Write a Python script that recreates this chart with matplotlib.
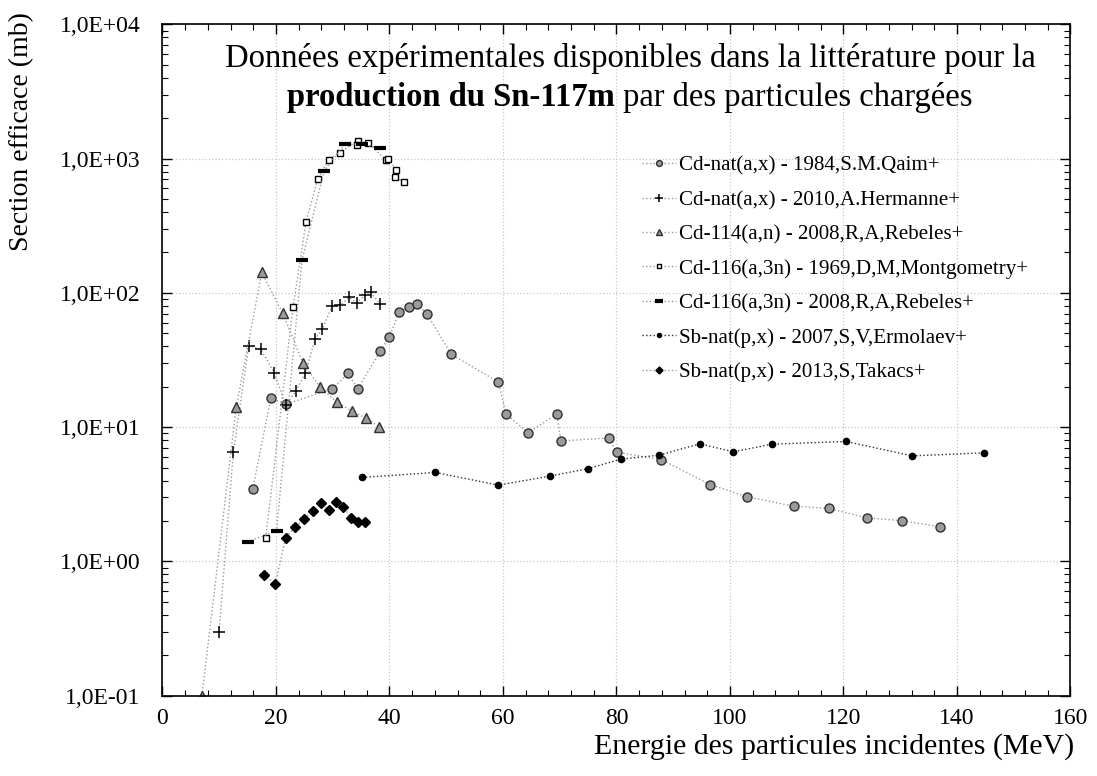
import matplotlib
matplotlib.use("Agg")
import matplotlib.pyplot as plt
from matplotlib.ticker import FixedLocator, FuncFormatter, LogLocator, MultipleLocator, NullFormatter

plt.rcParams['font.family'] = ['Liberation Serif', 'DejaVu Serif']

# ---------------- data ----------------
qaim_E = [15.9, 19.1, 21.7, 29.9, 32.7, 34.4, 38.4, 40.0, 41.7, 43.4, 44.9, 46.6, 50.9,
          59.2, 60.5, 64.4, 69.5, 70.2, 78.6, 80.1, 87.9, 96.5, 103.0, 111.2, 117.5,
          124.1, 130.4, 137.0]
qaim_S = [3.45, 16.5, 14.8, 19.3, 25.1, 19.3, 37.0, 47.3, 72.0, 78.0, 82.0, 70.0, 34.8,
          21.7, 12.6, 9.1, 12.5, 7.9, 8.3, 6.5, 5.74, 3.74, 3.03, 2.58, 2.48,
          2.11, 2.01, 1.81]

herm_E = [9.96, 12.5, 15.2, 17.3, 19.7, 21.7, 23.5, 25.2, 26.9, 28.2, 29.9, 31.3, 32.9,
          34.2, 35.7, 36.7, 38.3]
herm_S = [0.298, 6.55, 40.3, 38.1, 25.5, 14.6, 18.5, 25.4, 45.4, 54.0, 79.6, 81.0, 92.5,
          84.4, 96.6, 101.0, 82.8]

reb114_E = [6.96, 13.0, 17.5, 21.2, 24.8, 27.8, 30.7, 33.4, 35.9, 38.2]
reb114_S = [0.10, 14.1, 142.0, 70.3, 29.8, 19.9, 15.4, 13.1, 11.7, 10.0]

mont_E = [18.2, 23.0, 25.3, 27.4, 29.3, 31.2, 34.4, 34.3, 36.2, 39.4, 39.8, 41.2, 41.0, 42.6]
mont_S = [1.50, 77.9, 340.0, 711.0, 984.0, 1109.0, 1355.0, 1253.0, 1318.0, 973.0, 1000.0,
          829.0, 731.0, 667.0]

reb116_E = [15.0, 20.1, 24.6, 28.5, 32.2, 35.2, 38.3]
reb116_S = [1.40, 1.69, 176.0, 815.0, 1280.0, 1280.0, 1194.0]

ermo_E = [35.2, 48.1, 59.2, 68.3, 74.9, 80.8, 87.5, 94.7, 100.6, 107.4, 120.5, 132.1, 144.8]
ermo_S = [4.22, 4.60, 3.70, 4.32, 4.90, 5.78, 6.18, 7.52, 6.55, 7.47, 7.82, 6.11, 6.44]

taka_E = [17.9, 19.9, 21.7, 23.3, 24.9, 26.6, 27.9, 29.3, 30.6, 31.9, 33.2, 34.4, 35.7]
taka_S = [0.79, 0.68, 1.50, 1.79, 2.06, 2.37, 2.73, 2.41, 2.76, 2.56, 2.11, 1.97, 1.97]

labels = ["Cd-nat(a,x) - 1984,S.M.Qaim+",
          "Cd-nat(a,x) - 2010,A.Hermanne+",
          "Cd-114(a,n) - 2008,R,A,Rebeles+",
          "Cd-116(a,3n) - 1969,D,M,Montgometry+",
          "Cd-116(a,3n) - 2008,R,A,Rebeles+",
          "Sb-nat(p,x) - 2007,S,V,Ermolaev+",
          "Sb-nat(p,x) - 2013,S,Takacs+"]

x_ticks = [0, 20, 40, 60, 80, 100, 120, 140, 160]
y_ticks = [0.1, 1, 10, 100, 1000, 10000]
y_tick_labels = ["1,0E-01", "1,0E+00", "1,0E+01", "1,0E+02", "1,0E+03", "1,0E+04"]

title_line1 = "Données expérimentales disponibles dans la littérature pour la"
title_bold = "production du Sn-117m"
title_rest = " par des particules chargées"
xlabel = "Energie des particules incidentes (MeV)"
ylabel = "Section efficace (mb)"

# ---------------- figure ----------------
W, H = 1097, 776
fig = plt.figure(figsize=(W / 100, H / 100), dpi=100)
ax = fig.add_axes([0.1481, 0.1035, 0.8277, 0.8651])

lgray = '#9a9a9a'
common = dict(linestyle=':', linewidth=1.0)

ax.plot(qaim_E, qaim_S, color=lgray, marker='o', markersize=6.5, markerfacecolor='#9b9b9b',
        markeredgecolor='#303030', markeredgewidth=1.0, label=labels[0], **common)
ax.plot(herm_E, herm_S, color=lgray, marker='+', markersize=9, markeredgecolor='black',
        markeredgewidth=1.1, label=labels[1], **common)
ax.plot(reb114_E, reb114_S, color=lgray, marker='^', markersize=6.5, markerfacecolor='#9b9b9b',
        markeredgecolor='#303030', markeredgewidth=1.0, label=labels[2], **common)
ax.plot(mont_E, mont_S, color=lgray, marker='s', markersize=4, markerfacecolor='white',
        markeredgecolor='black', markeredgewidth=1.0, label=labels[3], **common)
ax.plot(reb116_E, reb116_S, color=lgray, marker='_', markersize=9, markeredgecolor='black',
        markeredgewidth=3.0, label=labels[4], **common)
ax.plot(ermo_E, ermo_S, color='#303030', marker='o', markersize=4.5, markerfacecolor='black',
        markeredgecolor='black', label=labels[5], **common)
ax.plot(taka_E, taka_S, color=lgray, marker='D', markersize=5.5, markerfacecolor='black',
        markeredgecolor='black', label=labels[6], **common)

ax.set_yscale('log')
ax.set_xlim(0, 160)
ax.set_ylim(0.1, 10000)

ax.xaxis.set_major_locator(FixedLocator(x_ticks))
ax.xaxis.set_minor_locator(MultipleLocator(4))
ax.yaxis.set_major_locator(FixedLocator(y_ticks))
ax.yaxis.set_major_formatter(FuncFormatter(
    lambda v, p: y_tick_labels[min(range(len(y_ticks)), key=lambda i: abs(y_ticks[i] - v))]))
ax.yaxis.set_minor_locator(LogLocator(base=10, subs=range(2, 10)))
ax.yaxis.set_minor_formatter(NullFormatter())

ax.tick_params(which='both', direction='in', top=True, right=True, labelsize=17)
ax.tick_params(which='major', length=7, width=1.0)
ax.tick_params(which='minor', length=4, width=0.8)
ax.tick_params(axis='y', which='major', pad=16)
ax.tick_params(axis='x', which='major', pad=9)

for s in ax.spines.values():
    s.set_linewidth(1.2)

ax.grid(True, which='major', linestyle=':', color='#c8c8c8', linewidth=0.9)

fig.text(1074 / W, 1 - 747 / H, xlabel, ha='right', va='center', fontsize=21.5)
fig.text(22 / W, 1 - 12 / H, ylabel, ha='center', va='top', rotation=90, fontsize=20)

ax.legend(loc='upper left', bbox_to_anchor=(0.528, 0.804), frameon=False,
          fontsize=15.1, handlelength=1.65, handletextpad=0.13, labelspacing=0.70,
          borderpad=0, borderaxespad=0, markerscale=0.65, numpoints=1)

# ---------------- title (mixed bold / regular) ----------------
cx = 630 / W
fs_title = 23.5
fig.text(cx, 1 - 67 / H, title_line1, ha='center', va='baseline', fontsize=fs_title)
tb = fig.text(0, 1 - 106 / H, title_bold, ha='left', va='baseline', fontsize=fs_title,
              fontweight='bold')
tr = fig.text(0, 1 - 106 / H, title_rest, ha='left', va='baseline', fontsize=fs_title)
fig.canvas.draw()
r = fig.canvas.get_renderer()
wb = tb.get_window_extent(r).width / fig.bbox.width
wr = tr.get_window_extent(r).width / fig.bbox.width
x0 = cx - (wb + wr) / 2
tb.set_x(x0)
tr.set_x(x0 + wb)

fig.savefig('out.png', dpi=100)
